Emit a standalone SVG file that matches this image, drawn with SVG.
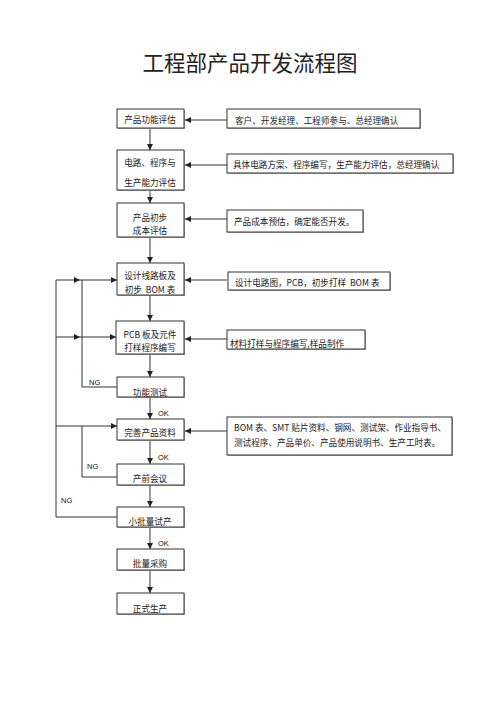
<svg xmlns="http://www.w3.org/2000/svg" width="500" height="707" viewBox="0 0 500 707">
<style>
.bx{fill:#fff;stroke:#333;stroke-width:1}
.sh{fill:#aaa}
.t{font-family:"Noto Sans CJK SC","Liberation Sans",sans-serif;font-size:8.6px;fill:#222}
.c{text-anchor:middle}
.lab{font-family:"Liberation Sans","Noto Sans CJK SC",sans-serif;font-size:7.5px;fill:#111}
.ln{fill:none;stroke:#333;stroke-width:1}
</style>
<defs>
<marker id="ar" viewBox="0 0 10 10" refX="10" refY="5" markerWidth="6" markerHeight="6" orient="auto" markerUnits="userSpaceOnUse">
<path d="M0,0 L10,5 L0,10 z" fill="#222"/>
</marker>
</defs>
<rect width="500" height="707" fill="#fff"/>
<text x="250" y="71" text-anchor="middle" font-family="Noto Sans CJK SC,sans-serif" font-size="21.5" fill="#222">工程部产品开发流程图</text>

<g id="connectors">
<path class="ln" d="M150,128 V150" marker-end="url(#ar)"/>
<path class="ln" d="M150,190 V203" marker-end="url(#ar)"/>
<path class="ln" d="M150,237 V263" marker-end="url(#ar)"/>
<path class="ln" d="M150,295 V321" marker-end="url(#ar)"/>
<path class="ln" d="M150,354 V377" marker-end="url(#ar)"/>
<path class="ln" d="M150,397 V419" marker-end="url(#ar)"/>
<path class="ln" d="M150,440 V464" marker-end="url(#ar)"/>
<path class="ln" d="M150,485 V507" marker-end="url(#ar)"/>
<path class="ln" d="M150,527 V549" marker-end="url(#ar)"/>
<path class="ln" d="M150,570 V593" marker-end="url(#ar)"/>
<path class="ln" d="M227,120 H185" marker-end="url(#ar)"/>
<path class="ln" d="M227,165 H185" marker-end="url(#ar)"/>
<path class="ln" d="M227,219 H185" marker-end="url(#ar)"/>
<path class="ln" d="M227,280 H185" marker-end="url(#ar)"/>
<path class="ln" d="M227,339 H185" marker-end="url(#ar)"/>
<path class="ln" d="M227,431 H185" marker-end="url(#ar)"/>
<path class="ln" d="M117,517 H56 V280 H80" marker-end="url(#ar)"/>
<path class="ln" d="M80,280 H117" marker-end="url(#ar)"/>
<path class="ln" d="M56,337 H80" marker-end="url(#ar)"/>
<path class="ln" d="M80,337 H116" marker-end="url(#ar)"/>
<path class="ln" d="M56,426 H117" marker-end="url(#ar)"/>
<path class="ln" d="M117,387 H82 V280"/>
<path class="ln" d="M117,477 H82 V426"/>
<text class="lab" x="89" y="385">NG</text>
<text class="lab" x="87" y="469">NG</text>
<text class="lab" x="61" y="503">NG</text>
<text class="lab" x="158" y="416">OK</text>
<text class="lab" x="158" y="460">OK</text>
<text class="lab" x="158" y="546">OK</text>
</g>

<g id="n1"><rect class="sh" x="118" y="110" width="67" height="19"/><rect class="bx" x="117" y="109" width="67" height="19"/><text class="t c" x="150" y="123">产品功能评估</text></g>
<g id="n2"><rect class="sh" x="118" y="151" width="67" height="40"/><rect class="bx" x="117" y="150" width="67" height="40"/><text class="t c" x="150" y="166">电路、程序与</text><text class="t c" x="150" y="186">生产能力评估</text></g>
<g id="n3"><rect class="sh" x="118" y="204" width="67" height="34"/><rect class="bx" x="117" y="203" width="67" height="34"/><text class="t c" x="150" y="221">产品初步</text><text class="t c" x="150" y="234">成本评估</text></g>
<g id="n4"><rect class="sh" x="118" y="264" width="67" height="32"/><rect class="bx" x="117" y="263" width="67" height="32"/><text class="t c" x="150" y="279">设计线路板及</text><text class="t c" x="150" y="293" xml:space="preserve">初步  BOM 表</text></g>
<g id="n5"><rect class="sh" x="117" y="322" width="68" height="33"/><rect class="bx" x="116" y="321" width="68" height="33"/><text class="t c" x="150" y="338">PCB 板及元件</text><text class="t c" x="150" y="351">打样程序编写</text></g>
<g id="n6"><rect class="sh" x="118" y="378" width="67" height="20"/><rect class="bx" x="117" y="377" width="67" height="20"/><text class="t c" x="150" y="396">功能测试</text></g>
<g id="n7"><rect class="sh" x="118" y="420" width="67" height="21"/><rect class="bx" x="117" y="419" width="67" height="21"/><text class="t c" x="150" y="436">完善产品资料</text></g>
<g id="n8"><rect class="sh" x="118" y="465" width="67" height="21"/><rect class="bx" x="117" y="464" width="67" height="21"/><text class="t c" x="150" y="482">产前会议</text></g>
<g id="n9"><rect class="sh" x="118" y="508" width="67" height="20"/><rect class="bx" x="117" y="507" width="67" height="20"/><text class="t c" x="150" y="525">小批量试产</text></g>
<g id="n10"><rect class="sh" x="118" y="550" width="67" height="21"/><rect class="bx" x="117" y="549" width="67" height="21"/><text class="t c" x="150" y="567">批量采购</text></g>
<g id="n11"><rect class="sh" x="118" y="594" width="67" height="21"/><rect class="bx" x="117" y="593" width="67" height="21"/><text class="t c" x="150" y="612">正式生产</text></g>

<g id="r1"><rect class="sh" x="228" y="110" width="193" height="19"/><rect class="bx" x="227" y="109" width="193" height="19"/><text class="t" x="235" y="123.5">客户、开发经理、工程师参与、总经理确认</text></g>
<g id="r2"><rect class="sh" x="228" y="155" width="226" height="19"/><rect class="bx" x="227" y="154" width="226" height="19"/><text class="t" x="233" y="167.5">具体电路方案、程序编写，生产能力评估，总经理确认</text></g>
<g id="r3"><rect class="sh" x="228" y="211" width="136" height="22"/><rect class="bx" x="227" y="210" width="136" height="22"/><text class="t" x="234" y="225">产品成本预估，确定能否开发。</text></g>
<g id="r4"><rect class="sh" x="229" y="273" width="162" height="18"/><rect class="bx" x="228" y="272" width="162" height="18"/><text class="t" x="235" y="286" xml:space="preserve">设计电路图，PCB，初步打样  BOM 表</text></g>
<g id="r5"><rect class="sh" x="228" y="331" width="138" height="19"/><rect class="bx" x="227" y="330" width="138" height="19"/><text class="t" x="230" y="347">材料打样与程序编写,样品制作</text></g>
<g id="r6"><rect class="sh" x="228" y="418" width="225" height="38"/><rect class="bx" x="227" y="417" width="225" height="38"/><text class="t" x="234" y="431">BOM 表、SMT 贴片资料、钢网、测试架、作业指导书、</text><text class="t" x="234" y="446">测试程序、产品单价、产品使用说明书、生产工时表。</text></g>
</svg>
